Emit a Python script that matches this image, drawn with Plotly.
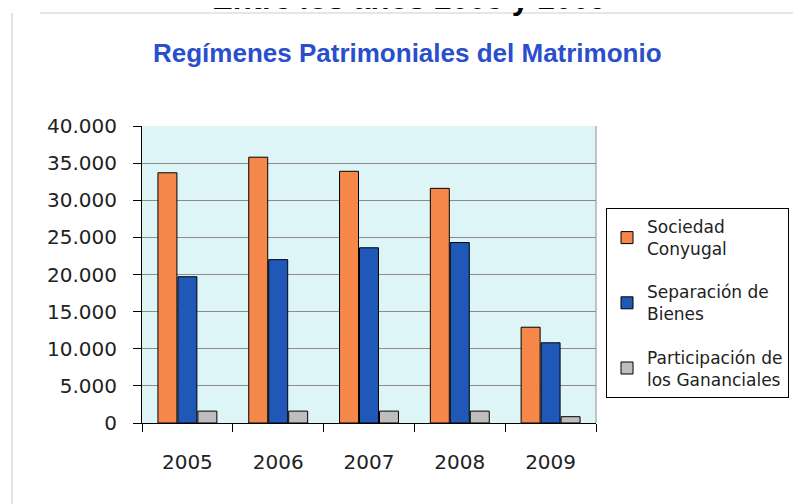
import plotly.graph_objects as go

years = ["2005", "2006", "2007", "2008", "2009"]
sociedad = [33700, 35800, 33900, 31600, 12900]
separacion = [19700, 22000, 23600, 24300, 10800]
participacion = [1600, 1600, 1600, 1600, 850]
series_names = ["Sociedad<br>Conyugal", "Separación de<br>Bienes", "Participación de<br>los Gananciales"]
colors = ["#F5874A", "#1F58B6", "#BEBEBE"]
y_ticks = [0, 5000, 10000, 15000, 20000, 25000, 30000, 35000, 40000]

W, H = 801, 504
L, R, T, B = 134, 213, 118, 89
PW, PH = W - L - R, H - T - B


def px(xf):
    return (xf - L) / PW


def py(yf):
    return (H - B - yf) / PH


fig = go.Figure()
for i, (name, vals, col) in enumerate(zip(series_names, [sociedad, separacion, participacion], colors)):
    fig.add_trace(go.Bar(x=years, y=vals, name=name, legendgroup="g%d" % i,
                         marker=dict(color=col, line=dict(color="black", width=1))))

fig.update_layout(
    width=W, height=H,
    margin=dict(l=L, r=R, t=T, b=B),
    paper_bgcolor="white", plot_bgcolor="#DDF5F6",
    separators=",.",
    barmode="group", bargap=0.34, bargroupgap=0.05,
    font=dict(family="DejaVu Sans, Verdana, sans-serif", color="#222222"),
    legend=dict(x=px(598), y=py(200), xanchor="left", yanchor="top",
                bordercolor="black", borderwidth=1, bgcolor="white",
                font=dict(size=17, color="#222222"), tracegroupgap=18, itemwidth=30),
    showlegend=True,
)
fig.update_xaxes(showline=True, linecolor="black", linewidth=1, ticks="outside", ticklen=8,
                 tickcolor="black", tickson="boundaries", tickfont=dict(size=20),
                 ticklabelstandoff=21, showgrid=False)
fig.update_yaxes(range=[0, 40000], tickvals=y_ticks, tickformat=",.0f", showline=True, linecolor="black",
                 linewidth=1, ticks="outside", ticklen=8, tickcolor="black", tickfont=dict(size=20),
                 ticklabelstandoff=12, showgrid=True, gridcolor="#8E8A8C", gridwidth=1, zeroline=False)

fig.add_shape(type="line", xref="paper", yref="paper", x0=1, x1=1, y0=0, y1=1,
              line=dict(color="#8E8A8C", width=1))
# faint page frame lines
fig.add_shape(type="line", xref="paper", yref="paper", x0=px(4), x1=px(4), y0=py(500), y1=py(5),
              line=dict(color="#E2E2E2", width=2))
fig.add_shape(type="line", xref="paper", yref="paper", x0=px(32), x1=px(790), y0=py(5), y1=py(5),
              line=dict(color="#E6E6E6", width=2))

fig.add_annotation(text="<b>Regímenes Patrimoniales del Matrimonio</b>", xref="paper", yref="paper",
                   x=px(399.5), y=py(45.5), xanchor="center", yanchor="middle",
                   showarrow=False, font=dict(size=26, color="#2A4FCC", family="Liberation Sans, Arial, sans-serif"))
fig.add_annotation(text="<b>Entre los años 2005 y 2009</b>", xref="paper", yref="paper",
                   x=px(401), y=py(10), xanchor="center", yanchor="bottom",
                   showarrow=False, font=dict(size=31, color="black", family="Liberation Sans, Arial, sans-serif"))

fig.write_html("out.html")
